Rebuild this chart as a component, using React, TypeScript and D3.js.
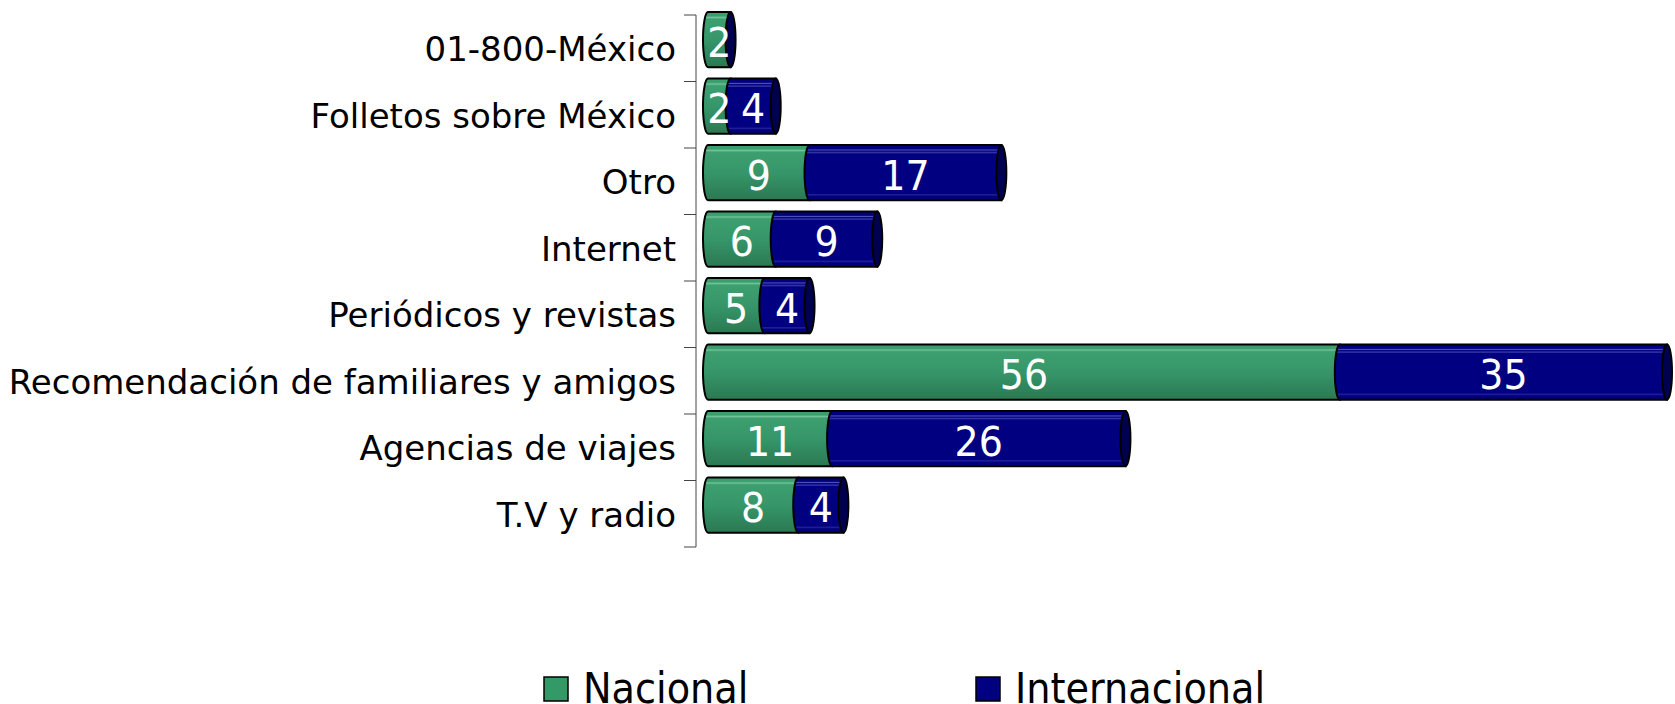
import React from "react";
import * as d3 from "d3";

const categories = [
  "01-800-México",
  "Folletos sobre México",
  "Otro",
  "Internet",
  "Periódicos y revistas",
  "Recomendación de familiares y amigos",
  "Agencias de viajes",
  "T.V y radio",
];
const nacional = [2, 2, 9, 6, 5, 56, 11, 8];
const internacional = [0, 4, 17, 9, 4, 35, 26, 4];
const seriesNames = ["Nacional", "Internacional"];
const seriesColors = ["#339966", "#000080"];
const xMax = 85;

const W = 1675;
const H = 704;
const FONT = "'DejaVu Sans', Verdana, sans-serif";

export default function App() {
  const y = d3.scaleBand<string>().domain(categories).range([15, 547]).paddingInner(0).paddingOuter(0);
  const x = d3.scaleLinear().domain([0, xMax]).range([708, 1667]);
  const bw = y.bandwidth();
  const barH = bw * 0.83;
  const series = [nacional, internacional];

  const ticks = d3.range(categories.length + 1).map((i) => 15 + i * bw);

  return (
    <svg width={W} height={H} style={{ position: "absolute", left: 0, top: 0 }} fontFamily={FONT}>
      <defs>
        <linearGradient id="g0" x1="0" y1="0" x2="0" y2="1">
          <stop offset="0" stopColor="#3a9e6d" />
          <stop offset="0.07" stopColor="#3a9e6d" />
          <stop offset="0.1" stopColor="#6fc298" />
          <stop offset="0.13" stopColor="#3d9f6f" />
          <stop offset="0.5" stopColor="#36966a" />
          <stop offset="1" stopColor="#2b7851" />
        </linearGradient>
        <linearGradient id="g1" x1="0" y1="0" x2="0" y2="1">
          <stop offset="0" stopColor="#000080" />
          <stop offset="0.07" stopColor="#000080" />
          <stop offset="0.09" stopColor="#5050b8" />
          <stop offset="0.11" stopColor="#000080" />
          <stop offset="0.14" stopColor="#3a3aaa" />
          <stop offset="0.16" stopColor="#000080" />
          <stop offset="0.88" stopColor="#000080" />
          <stop offset="0.9" stopColor="#23239a" />
          <stop offset="0.93" stopColor="#000080" />
          <stop offset="1" stopColor="#000078" />
        </linearGradient>
      </defs>

      {/* axis */}
      <line x1={696} x2={696} y1={15} y2={547} stroke="#444" strokeWidth={1} />
      {ticks.map((t, i) => (
        <line key={i} x1={684} x2={696} y1={t} y2={t} stroke="#444" strokeWidth={1} />
      ))}

      {/* category labels */}
      {categories.map((c) => (
        <text
          key={c}
          x={676}
          y={(y(c) as number) + bw / 2 + 13}
          textAnchor="end"
          fontSize={34}
          fill="#000"
        >
          {c}
        </text>
      ))}

      {/* bars */}
      {categories.map((c, i) => {
        const top = (y(c) as number) - 3;
        const bot = top + barH;
        const mid = (top + bot) / 2;
        const ry = barH / 2;
        let cum = 0;
        const segs = series.map((s, si) => {
          const v0 = Math.min(cum, xMax);
          cum += s[i];
          const v1 = Math.min(cum, xMax);
          return { si, v: s[i], x0: x(v0), x1: x(v1) };
        });
        const endX = segs[segs.length - 1].x1;
        return (
          <g key={c}>
            {segs.map((sg) =>
              sg.v > 0 ? (
                <path
                  key={sg.si}
                  d={`M${sg.x0},${top} H${sg.x1} V${bot} H${sg.x0} A5,${ry} 0 0 1 ${sg.x0},${top} Z`}
                  fill={`url(#g${sg.si})`}
                  stroke="#000"
                  strokeWidth={2}
                />
              ) : null
            )}
            <ellipse cx={endX} cy={mid} rx={5} ry={ry} fill="#000050" stroke="#000" strokeWidth={2} />
            {segs.map((sg) =>
              sg.v > 0 ? (
                <text
                  key={"t" + sg.si}
                  transform={`translate(${(sg.x0 + sg.x1) / 2},${mid + 17}) scale(0.95,1)`}
                  textAnchor="middle"
                  fontSize={40}
                  fill="#fff"
                >
                  {sg.v}
                </text>
              ) : null
            )}
          </g>
        );
      })}

      {/* legend */}
      {seriesNames.map((n, i) => {
        const lx = [544, 976][i];
        return (
          <g key={n}>
            <rect x={lx} y={677} width={24} height={24} fill={seriesColors[i]} stroke="#000" strokeWidth={1.5} />
            <text transform={`translate(${lx + 39},703) scale(0.89,1)`} fontSize={43} fill="#000">
              {n}
            </text>
          </g>
        );
      })}
    </svg>
  );
}
